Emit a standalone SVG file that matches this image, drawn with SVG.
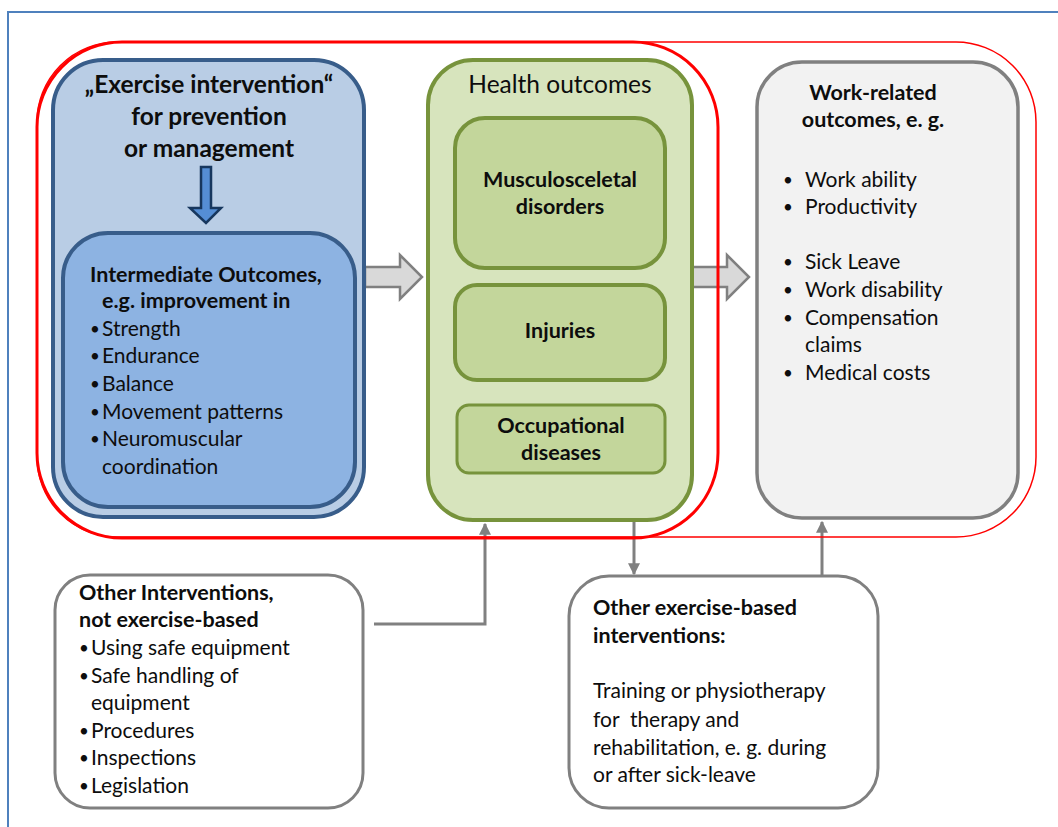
<svg xmlns="http://www.w3.org/2000/svg" width="1058" height="827" viewBox="0 0 1058 827">
<defs>
<style>
text{font-family:Lato,"Open Sans","Liberation Sans",sans-serif;fill:#0D0D0D;}
.b{font-weight:bold;font-size:21.5px;}
.r{font-size:21px;}
.d{font-size:17px;}
.t{font-weight:bold;font-size:24.5px;}
.c{text-anchor:middle;}
.gray{fill:#FFFFFF;stroke:#808080;stroke-width:3;}
.grn{stroke:#77933C;stroke-width:4;}
.conn{fill:none;stroke:#808080;stroke-width:3;}
.blk{fill:#D9D9D9;stroke:#808080;stroke-width:2.5;stroke-linejoin:miter;}
</style>
<marker id="ah" viewBox="0 0 10 10" refX="9" refY="5" markerWidth="4" markerHeight="4" orient="auto" markerUnits="strokeWidth">
<path d="M0,0 L10,5 L0,10 z" fill="#808080"/>
</marker>
</defs>
<rect width="1058" height="827" fill="#FFFFFF"/>
<path d="M8,827 V12 H1058" fill="none" stroke="#4F81BD" stroke-width="2"/>

<g id="connectors">
<polygon class="blk" points="365,267 400,267 400,255 422,277 400,299 400,287 365,287"/>
<polygon class="blk" points="690,267 727,267 727,255 749,277 727,299 727,287 690,287"/>
<polyline class="conn" points="374,624 485,624 485,524" marker-end="url(#ah)"/>
<line class="conn" x1="634" y1="521" x2="634" y2="574" marker-end="url(#ah)"/>
<line class="conn" x1="822" y1="576" x2="822" y2="522" marker-end="url(#ah)"/>
</g>

<g id="scope">
<rect x="37" y="42" width="999" height="495" rx="80" fill="none" stroke="#FF0000" stroke-width="1.5"/>
<rect x="37" y="42" width="681" height="496" rx="85" fill="none" stroke="#FF0000" stroke-width="3"/>
</g>

<g id="exercise">
<rect x="53" y="60" width="311" height="457" rx="50" fill="#B9CDE5" stroke="#385D8A" stroke-width="4"/>
<text class="t c" x="209" y="93">„Exercise intervention“</text>
<text class="t c" x="209" y="125">for prevention</text>
<text class="t c" x="209" y="157">or management</text>
<polygon points="201,167 211,167 211,208 221,208 206,223 190,208 201,208" fill="#558ED5" stroke="#17375E" stroke-width="2.5" stroke-linejoin="miter"/>
</g>

<g id="intermediate">
<rect x="63" y="233" width="292" height="274" rx="45" fill="#8DB3E2" stroke="#385D8A" stroke-width="4"/>
<text class="b" x="90" y="282">Intermediate Outcomes,</text>
<text class="b" x="102" y="308">e.g. improvement in</text>
<text class="d" x="90" y="335">•</text><text class="r" x="102" y="336">Strength</text>
<text class="d" x="90" y="362">•</text><text class="r" x="102" y="363">Endurance</text>
<text class="d" x="90" y="390">•</text><text class="r" x="102" y="391">Balance</text>
<text class="d" x="90" y="418">•</text><text class="r" x="102" y="419">Movement patterns</text>
<text class="d" x="90" y="445">•</text><text class="r" x="102" y="446">Neuromuscular</text>
<text class="r" x="102" y="474">coordination</text>
</g>

<g id="health">
<rect x="428" y="60" width="264" height="460" rx="45" fill="#D7E4BD" class="grn"/>
<text class="c" x="560" y="93" style="font-size:24.5px">Health outcomes</text>
</g>
<g id="msd">
<rect x="455" y="118" width="210" height="150" rx="30" fill="#C3D69B" class="grn"/>
<text class="b c" x="560" y="187">Musculosceletal</text>
<text class="b c" x="560" y="214">disorders</text>
</g>
<g id="injuries">
<rect x="455" y="285" width="210" height="95" rx="22" fill="#C3D69B" class="grn"/>
<text class="b c" x="560" y="338">Injuries</text>
</g>
<g id="occupational">
<rect x="457" y="405" width="208" height="68" rx="12" fill="#C3D69B" stroke="#77933C" stroke-width="3"/>
<text class="b c" x="561" y="433">Occupational</text>
<text class="b c" x="561" y="460">diseases</text>
</g>

<g id="work">
<rect x="757" y="62" width="261" height="456" rx="45" fill="#F2F2F2" stroke="#808080" stroke-width="3.5"/>
<text class="b c" x="873" y="100">Work-related</text>
<text class="b c" x="873" y="127">outcomes, e. g.</text>
<text class="d" x="783" y="186">•</text><text class="r" x="805" y="187">Work ability</text>
<text class="d" x="783" y="213">•</text><text class="r" x="805" y="214">Productivity</text>
<text class="d" x="783" y="268">•</text><text class="r" x="805" y="269">Sick Leave</text>
<text class="d" x="783" y="296">•</text><text class="r" x="805" y="297">Work disability</text>
<text class="d" x="783" y="324">•</text><text class="r" x="805" y="325">Compensation</text>
<text class="r" x="805" y="352">claims</text>
<text class="d" x="783" y="379">•</text><text class="r" x="805" y="380">Medical costs</text>
</g>

<g id="other-interventions">
<rect x="55" y="575" width="308" height="233" rx="35" class="gray"/>
<text class="b" x="79" y="600">Other Interventions,</text>
<text class="b" x="79" y="627">not exercise-based</text>
<text class="d" x="79" y="654">•</text><text class="r" x="91" y="655">Using safe equipment</text>
<text class="d" x="79" y="682">•</text><text class="r" x="91" y="683">Safe handling of</text>
<text class="r" x="91" y="710">equipment</text>
<text class="d" x="79" y="737">•</text><text class="r" x="91" y="738">Procedures</text>
<text class="d" x="79" y="764">•</text><text class="r" x="91" y="765">Inspections</text>
<text class="d" x="79" y="792">•</text><text class="r" x="91" y="793">Legislation</text>
</g>

<g id="other-exercise">
<rect x="569" y="576" width="309" height="232" rx="40" class="gray"/>
<text class="b" x="593" y="615">Other exercise-based</text>
<text class="b" x="593" y="643">interventions:</text>
<text class="r" x="593" y="698">Training or physiotherapy</text>
<text class="r" x="593" y="727" xml:space="preserve">for  therapy and</text>
<text class="r" x="593" y="755">rehabilitation, e. g. during</text>
<text class="r" x="593" y="782">or after sick-leave</text>
</g>
</svg>
